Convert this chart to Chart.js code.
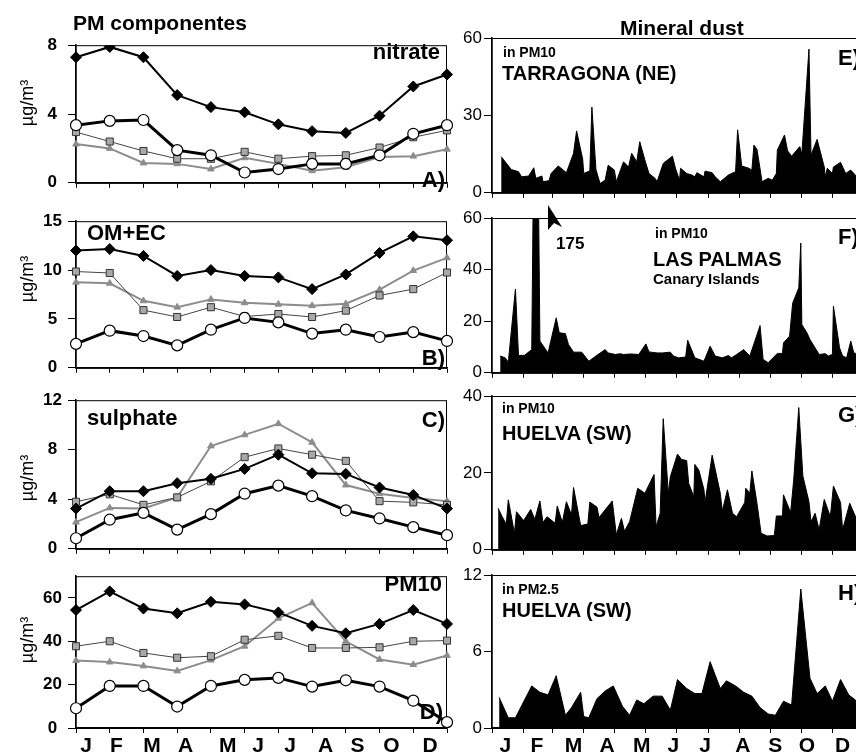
<!DOCTYPE html>
<html lang="es">
<head>
<meta charset="utf-8">
<title>PM componentes / Mineral dust</title>
<script src="https://cdn.jsdelivr.net/npm/chart.js@4.4.1/dist/chart.umd.min.js"></script>
<style>
  html, body { margin: 0; padding: 0; background: #fff; }
  #fig { position: relative; width: 856px; height: 755px; overflow: hidden; font-family: "Liberation Sans", Arial, sans-serif; color: #000; }
  #fig canvas { position: absolute; }
  .lbl { position: absolute; z-index: 2; font-weight: bold; white-space: nowrap; line-height: 1; transform: translateY(-50%); }
  .ytitle { position: absolute; z-index: 2; left: 27px; font-size: 18px; white-space: nowrap; line-height: 1; transform: translate(-50%, -50%) rotate(-90deg); }
</style>
</head>
<body>
<div id="fig">
  <div class="lbl" style="left:73px; top:22px; font-size:21px;">PM componentes</div>
  <div class="lbl" style="left:620px; top:27px; font-size:21px;">Mineral dust</div>

  <div class="ytitle" style="top:103px;">µg/m³</div>
  <div class="ytitle" style="top:279px;">µg/m³</div>
  <div class="ytitle" style="top:478px;">µg/m³</div>
  <div class="ytitle" style="top:640px;">µg/m³</div>

  <div class="lbl" style="right:416px; top:52px; font-size:22px;">nitrate</div>
  <div class="lbl" style="right:411px; top:180px; font-size:22px;">A)</div>
  <div class="lbl" style="left:87px; top:233px; font-size:22px;">OM+EC</div>
  <div class="lbl" style="right:411px; top:358px; font-size:22px;">B)</div>
  <div class="lbl" style="left:87px; top:418px; font-size:22px;">sulphate</div>
  <div class="lbl" style="right:411px; top:420px; font-size:22px;">C)</div>
  <div class="lbl" style="right:414px; top:584px; font-size:22px;">PM10</div>
  <div class="lbl" style="right:413px; top:712px; font-size:22px;">D)</div>

  <div class="lbl" style="left:503px; top:52px; font-size:14px;">in PM10</div>
  <div class="lbl" style="left:502px; top:73px; font-size:20px;">TARRAGONA (NE)</div>
  <div class="lbl" style="left:838px; top:58px; font-size:22px;">E)</div>

  <div class="lbl" style="left:556px; top:243px; font-size:17px;">175</div>
  <div class="lbl" style="left:655px; top:233px; font-size:14px;">in PM10</div>
  <div class="lbl" style="left:653px; top:259px; font-size:20px;">LAS PALMAS</div>
  <div class="lbl" style="left:653px; top:278px; font-size:15px;">Canary Islands</div>
  <div class="lbl" style="left:838px; top:237px; font-size:22px;">F)</div>

  <div class="lbl" style="left:502px; top:408px; font-size:14px;">in PM10</div>
  <div class="lbl" style="left:502px; top:433px; font-size:20px;">HUELVA (SW)</div>
  <div class="lbl" style="left:838px; top:415px; font-size:22px;">G)</div>

  <div class="lbl" style="left:502px; top:589px; font-size:14px;">in PM2.5</div>
  <div class="lbl" style="left:502px; top:610px; font-size:20px;">HUELVA (SW)</div>
  <div class="lbl" style="left:838px; top:593px; font-size:22px;">H)</div>
</div>

<script>
// --- DATOS ---
const monthsAll = ["J", "F", "M", "A", "M", "J", "J", "A", "S", "O", "N", "D"];
const monthLetters = ["J", "F", "M", "A", "M", "J", "J", "A", "S", "O", "D"];
const monthStartDays = [0, 31, 59, 90, 120, 151, 181, 212, 243, 273, 304, 334, 365];
const leftLetterPos = [0.3, 1.2, 2.25, 3.25, 4.5, 5.4, 6.35, 7.4, 8.35, 9.35, 10.5];
const rightLetterDays = [13, 44, 80, 113, 147, 178, 209, 246, 278, 309, 344];

// A) nitrate
const nitrateDiamond = [7.3, 7.9, 7.3, 5.1, 4.4, 4.1, 3.4, 3.0, 2.9, 3.9, 5.6, 6.3];
const nitrateCircle = [3.35, 3.6, 3.65, 1.9, 1.6, 0.6, 0.8, 1.1, 1.1, 1.6, 2.85, 3.35];
const nitrateSquare = [2.95, 2.4, 1.85, 1.4, 1.4, 1.8, 1.4, 1.55, 1.6, 2.05, 2.65, 3.05];
const nitrateTriangle = [2.25, 2.0, 1.15, 1.1, 0.8, 1.45, 1.1, 0.7, 0.9, 1.5, 1.55, 1.95];

// B) OM+EC
const omDiamond = [12.0, 12.15, 11.45, 9.4, 10.0, 9.4, 9.25, 8.05, 9.55, 11.75, 13.45, 13.05];
const omCircle = [2.45, 3.8, 3.25, 2.3, 3.9, 5.1, 4.65, 3.5, 3.9, 3.15, 3.65, 2.75];
const omSquare = [9.85, 9.7, 5.9, 5.2, 6.2, 5.25, 5.5, 5.2, 5.85, 7.4, 8.05, 9.75];
const omTriangle = [8.75, 8.65, 6.85, 6.2, 7.0, 6.65, 6.5, 6.35, 6.55, 8.0, 9.95, 11.25];

// C) sulphate
const sulphDiamond = [3.25, 4.65, 4.65, 5.3, 5.65, 6.45, 7.6, 6.1, 6.05, 4.95, 4.35, 3.25];
const sulphCircle = [0.85, 2.35, 2.9, 1.55, 2.8, 4.45, 5.1, 4.25, 3.1, 2.45, 1.75, 1.1];
const sulphSquare = [3.8, 4.4, 3.55, 4.15, 5.45, 7.4, 8.1, 7.6, 7.1, 3.85, 3.75, 3.55];
const sulphTriangle = [2.15, 3.3, 3.25, 4.15, 8.3, 9.2, 10.1, 8.6, 5.15, 4.45, 4.1, 3.85];

// D) PM10
const pm10Diamond = [54.4, 63, 55.1, 52.9, 58.2, 57, 53.3, 47.1, 43.7, 48, 54.4, 48];
const pm10Circle = [9.1, 19.4, 19.4, 9.9, 19.4, 22.2, 23.1, 19.1, 22, 19.1, 12.6, 2.7];
const pm10Square = [37.7, 40, 34.6, 32.4, 33.1, 40.7, 42.5, 36.9, 36.9, 37.2, 40, 40.3];
const pm10Triangle = [31.1, 30.4, 28.6, 26.3, 31.3, 37.7, 50.6, 57.7, 40, 31.6, 29.2, 33.4];

// E) Tarragona, mineral dust in PM10
const tarragonaDays = [9, 19, 26, 29, 36, 41, 43, 49, 50, 56, 58, 65, 73, 80, 83, 89, 90, 96, 98, 102, 106, 111, 114, 120, 122, 129, 134, 137, 142, 145, 150, 154, 160, 162, 168, 177, 180, 184, 185, 191, 196, 199, 201, 208, 209, 216, 219, 224, 232, 239, 241, 245, 252, 255, 257, 260, 265, 271, 275, 279, 280, 287, 290, 294, 302, 304, 311, 313, 319, 326, 327, 329, 334, 335, 342, 347, 352, 358, 363];
const tarragonaDust = [14, 9, 8.2, 6.2, 6.5, 9.7, 5.6, 6.5, 4.3, 4.7, 7.5, 10.4, 7.8, 15.3, 24, 13, 7.5, 8.5, 33.2, 9, 3.6, 4.9, 10.7, 8.8, 4.3, 12, 10, 15.3, 12, 19.8, 12.7, 7.5, 5.6, 4.3, 11.4, 14.2, 9.5, 4.9, 9.5, 7.5, 6.9, 6.2, 7.8, 6.2, 8.4, 7.8, 6.2, 4.3, 6.9, 8.2, 24.4, 10.4, 9.5, 8.8, 18.5, 16.8, 4.3, 5.6, 4.9, 7.5, 16.6, 22.4, 16.3, 14.2, 17.9, 15, 55.7, 14.6, 20.7, 10, 6.2, 9.5, 7.5, 10, 11.8, 7.5, 8.8, 6.2, 8];

// F) Las Palmas, mineral dust in PM10 (pico de 175 fuera de escala)
const lasPalmasDays = [8, 13, 16, 23, 26, 32, 39, 43, 47, 55, 63, 66, 72, 75, 80, 88, 95, 103, 111, 114, 121, 126, 129, 136, 144, 151, 154, 162, 167, 175, 178, 183, 190, 192, 199, 208, 214, 219, 226, 232, 235, 240, 247, 253, 263, 266, 271, 280, 285, 286, 292, 295, 301, 303, 304, 309, 312, 321, 327, 330, 334, 335, 341, 344, 348, 352, 355, 362];
const lasPalmasDust = [6.5, 5.8, 4.1, 32.5, 6.7, 6.8, 9, 175, 12.3, 7.7, 21.3, 15.5, 15.2, 11, 8, 8, 4.5, 6.8, 9, 7.7, 7.1, 7.4, 7.1, 7.3, 7.1, 11.2, 8.1, 7.7, 7.7, 8, 6.5, 5.8, 6.1, 12.6, 5.8, 4.5, 10.3, 6.5, 5.8, 6.7, 5.8, 7.1, 9, 6.5, 18.3, 5.2, 3.9, 7.5, 7.5, 11.6, 14.2, 27, 32.9, 50.3, 18.7, 15.5, 12.9, 7.1, 7.4, 6.5, 7.1, 25.8, 9.7, 6.5, 5.8, 12.3, 7.7, 7];

// G) Huelva, mineral dust in PM10
const huelvaDays = [6, 10, 14, 16, 22, 24, 31, 38, 42, 47, 50, 54, 62, 64, 69, 73, 78, 80, 87, 94, 96, 103, 105, 118, 122, 127, 130, 135, 143, 150, 159, 161, 165, 168, 173, 175, 182, 186, 191, 193, 198, 199, 203, 208, 209, 216, 224, 226, 231, 236, 240, 248, 249, 253, 255, 260, 264, 270, 277, 279, 285, 286, 293, 296, 301, 305, 311, 313, 317, 321, 326, 332, 335, 342, 344, 351, 358, 363];
const huelvaDust = [10.8, 8.6, 6.7, 13, 4.3, 9.9, 7.6, 10.5, 7.9, 12.7, 7.1, 8.6, 6.9, 11.4, 7.1, 12.5, 9.1, 16.2, 6.3, 6.7, 12.4, 11.1, 8.4, 12.7, 3.9, 8.2, 4.8, 7.3, 16, 14.7, 19.6, 6, 9.5, 34.1, 14.7, 19, 24.9, 23.5, 23.2, 17.3, 13.8, 22.2, 20.7, 15.6, 12.3, 24.6, 14.7, 10.1, 15.6, 9.5, 8.6, 12.3, 16, 14.7, 20.5, 12.1, 4.3, 3.6, 3.7, 8.8, 8.8, 14.3, 9.7, 18.1, 37, 19.2, 12.5, 7.3, 9.5, 5.2, 13.1, 8.6, 16.6, 12.3, 5.2, 12.1, 7.8, 9];

// H) Huelva, mineral dust in PM2.5
const huelvaFineDays = [7, 16, 23, 39, 47, 55, 63, 72, 78, 87, 90, 95, 103, 111, 119, 128, 135, 142, 149, 158, 167, 175, 182, 191, 199, 206, 214, 224, 230, 239, 247, 255, 263, 271, 278, 286, 294, 303, 312, 319, 327, 334, 342, 350, 358, 363];
const huelvaFineDust = [2.4, 0.8, 0.8, 3.3, 2.8, 2.6, 4.1, 1.0, 1.6, 2.8, 0.9, 0.8, 2.3, 2.9, 3.3, 1.7, 1.0, 2.2, 1.9, 2.5, 2.5, 1.4, 3.8, 3.1, 2.7, 2.7, 5.2, 3.1, 3.7, 3.3, 2.8, 2.5, 1.6, 1.1, 1.0, 2.1, 1.8, 10.9, 3.9, 2.7, 3.3, 2.1, 3.8, 2.6, 2.1, 2.5];

// ticks del eje y
const yTicksA = [0, 4, 8];
const yTicksB = [0, 5, 10, 15];
const yTicksC = [0, 4, 8, 12];
const yTicksD = [0, 20, 40, 60];
const yTicksE = [0, 30, 60];
const yTicksF = [0, 20, 40, 60];
const yTicksG = [0, 20, 40];
const yTicksH = [0, 6, 12];

// --- SETUP ---
Chart.defaults.font.family = '"Liberation Sans", Arial, sans-serif';
Chart.defaults.color = "#000";

const fig = document.getElementById("fig");

function makeCanvas(left, top, w, h) {
  const c = document.createElement("canvas");
  c.width = w; c.height = h;
  c.style.left = left + "px"; c.style.top = top + "px";
  c.style.width = w + "px"; c.style.height = h + "px";
  fig.appendChild(c);
  return c.getContext("2d");
}

const fixedTicks = values => scale => { scale.ticks = values.map(v => ({ value: v })); };

// marco negro alrededor del area del grafico
const framePlugin = {
  id: "frame",
  beforeDatasetsDraw(chart) {
    const { ctx, chartArea: a } = chart;
    ctx.save();
    ctx.strokeStyle = "#000";
    ctx.lineWidth = 1;
    ctx.strokeRect(a.left, a.top + 0.5, a.right - a.left - 0.5, a.bottom - a.top);
    ctx.restore();
  }
};

// flecha del pico de 175 en Las Palmas
const arrowPlugin = {
  id: "arrow175",
  afterDraw(chart) {
    const { ctx, chartArea: a } = chart;
    const x = a.left + 56, y = a.top - 13;
    ctx.save();
    ctx.fillStyle = "#000";
    ctx.beginPath();
    ctx.moveTo(x, y);
    ctx.lineTo(x, y + 25);
    ctx.lineTo(x + 6, y + 18);
    ctx.lineTo(x + 14, y + 22);
    ctx.closePath();
    ctx.fill();
    ctx.restore();
  }
};

function lineSets(diamond, circle, square, triangle) {
  return [
    { data: circle, borderColor: "#000", borderWidth: 3, pointStyle: "circle", pointRadius: 5.5,
      pointBackgroundColor: "#fff", pointBorderColor: "#000", pointBorderWidth: 1.2 },
    { data: diamond, borderColor: "#000", borderWidth: 2, pointStyle: "rectRot", pointRadius: 5.5,
      pointBackgroundColor: "#000", pointBorderColor: "#000", pointBorderWidth: 1 },
    { data: square, borderColor: "#444", borderWidth: 1, pointStyle: "rect", pointRadius: 5,
      pointBackgroundColor: "#a8a8a8", pointBorderColor: "#333", pointBorderWidth: 1 },
    { data: triangle, borderColor: "#8c8c8c", borderWidth: 2, pointStyle: "triangle", pointRadius: 3.8,
      pointBackgroundColor: "#8c8c8c", pointBorderColor: "#8c8c8c", pointBorderWidth: 1 }
  ];
}

const baseOptions = {
  responsive: false,
  animation: false,
  events: [],
  plugins: { legend: { display: false }, tooltip: { enabled: false } }
};

function letterAxis(min, max, positions, height) {
  return {
    type: "linear", position: "bottom", weight: 1, min, max,
    afterBuildTicks: fixedTicks(positions),
    ticks: { autoSkip: false, maxRotation: 0, padding: 0, font: { size: 21, weight: "bold" },
             callback: (v, i) => monthLetters[i] },
    grid: { display: false, drawTicks: false },
    border: { display: false },
    afterFit: s => { s.height = height; }
  };
}

// --- PANELES IZQUIERDA (PM componentes) ---
function leftPanel(plotTop, plotBottom, yMax, yTicks, labelPad, sets, withMonths) {
  const padTop = 14, xH = withMonths ? 6 : 12, mH = withMonths ? 24 : 0;
  const ctx = makeCanvas(0, plotTop - padTop, 462, padTop + (plotBottom - plotTop) + xH + mH);
  const scales = {
    x: { type: "category", offset: false, weight: 0,
         ticks: { display: false },
         grid: { drawOnChartArea: false, tickLength: 5, color: "#000", tickColor: "#000" },
         border: { color: "#000", width: 1.5 },
         afterFit: s => { s.height = xH; } },
    y: { min: 0, max: yMax, afterBuildTicks: fixedTicks(yTicks),
         ticks: { font: { size: 17, weight: "bold" }, padding: labelPad, crossAlign: "center" },
         grid: { drawOnChartArea: false, tickLength: 8, color: "#000", tickColor: "#000" },
         border: { color: "#000", width: 1.5 },
         afterFit: s => { s.width = 76; } }
  };
  if (withMonths) scales.xm = letterAxis(0, 11, leftLetterPos, mH);
  new Chart(ctx, {
    type: "line",
    data: { labels: monthsAll, datasets: sets },
    options: { ...baseOptions, layout: { padding: { top: padTop, right: 15, left: 0, bottom: 0 } }, scales },
    plugins: [framePlugin]
  });
}

leftPanel(38, 192, 8, yTicksA, 11, lineSets(nitrateDiamond, nitrateCircle, nitrateSquare, nitrateTriangle), false);
leftPanel(219, 372, 15, yTicksB, 6, lineSets(omDiamond, omCircle, omSquare, omTriangle), false);
leftPanel(398, 553, 12, yTicksC, 6, lineSets(sulphDiamond, sulphCircle, sulphSquare, sulphTriangle), false);
leftPanel(574, 728, 70, yTicksD, 6, lineSets(pm10Diamond, pm10Circle, pm10Square, pm10Triangle), true);

// --- PANELES DERECHA (Mineral dust) ---
function dustPanel(plotTop, plotBottom, yMax, yTicks, days, values, withMonths, extra) {
  const padTop = extra ? 18 : 14, xH = withMonths ? 6 : 12, mH = withMonths ? 24 : 0;
  const ctx = makeCanvas(440, plotTop - padTop, 440, padTop + (plotBottom - plotTop) + xH + mH);
  const scales = {
    x: { type: "linear", min: 0, max: 365, weight: 0,
         afterBuildTicks: fixedTicks(monthStartDays),
         ticks: { display: false },
         grid: { drawOnChartArea: false, tickLength: 5, color: "#000", tickColor: "#000" },
         border: { color: "#000", width: 1.5 },
         afterFit: s => { s.height = xH; } },
    y: { min: 0, max: yMax, afterBuildTicks: fixedTicks(yTicks),
         ticks: { font: { size: 17 }, padding: 2 },
         grid: { drawOnChartArea: false, tickLength: 8, color: "#000", tickColor: "#000" },
         border: { color: "#000", width: 1.5 },
         afterFit: s => { s.width = 52; } }
  };
  if (withMonths) scales.xm = letterAxis(0, 365, rightLetterDays, mH);
  new Chart(ctx, {
    type: "line",
    data: {
      datasets: [{
        data: days.map((d, i) => ({ x: d, y: values[i] })),
        borderColor: "#000", borderWidth: 1, backgroundColor: "#000",
        fill: "origin", pointRadius: 0, tension: 0, clip: 0
      }]
    },
    options: { ...baseOptions, layout: { padding: { top: padTop, right: 16, left: 0, bottom: 0 } }, scales },
    plugins: extra ? [framePlugin, extra] : [framePlugin]
  });
}

dustPanel(38, 193, 60, yTicksE, tarragonaDays, tarragonaDust, false);
dustPanel(218, 373, 60, yTicksF, lasPalmasDays, lasPalmasDust, false, arrowPlugin);
dustPanel(396, 550, 40, yTicksG, huelvaDays, huelvaDust, false);
dustPanel(575, 728, 12, yTicksH, huelvaFineDays, huelvaFineDust, true);
</script>
</body>
</html>
